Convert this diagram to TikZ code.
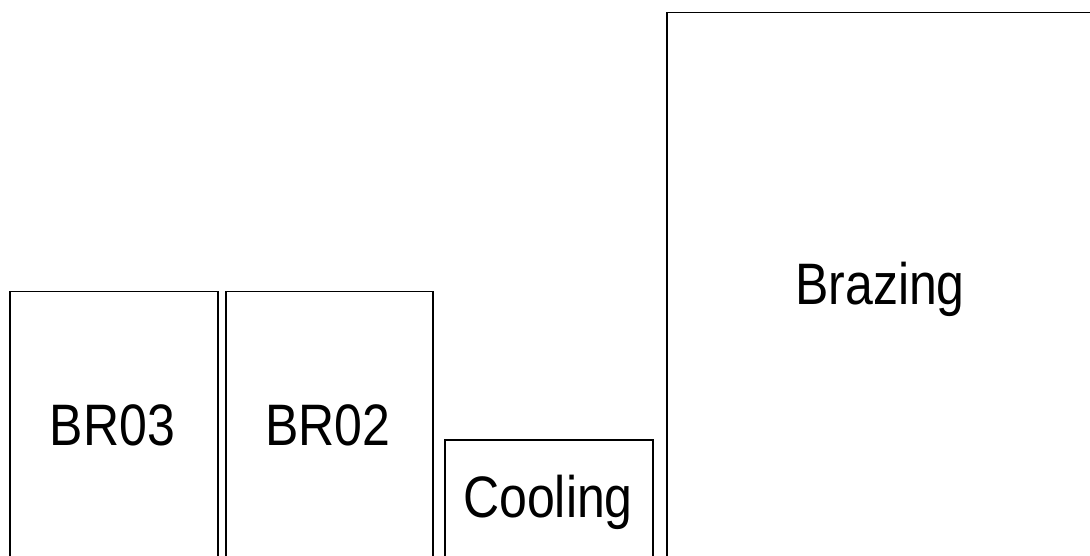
\documentclass[tikz,border=0pt]{standalone}
\usepackage{fontspec}
\setmainfont{Liberation Sans}
\begin{document}
\begin{tikzpicture}[x=1pt,y=-1pt,
  box/.style={draw=black, line width=1.3pt, fill=white, anchor=north west, inner sep=0pt, outer sep=0pt},
  lbl/.style={anchor=base, inner sep=0pt, font=\fontsize{50pt}{60pt}\selectfont}]
\useasboundingbox (0,0) rectangle (1090,556);
\clip (0,0) rectangle (1090,556);
\fill[white] (0,0) rectangle (1090,556);
\node[box, minimum width=208pt, minimum height=270pt] (br03) at (10,291.7) {};
\node[box, minimum width=207pt, minimum height=270pt] (br02) at (226,291.7) {};
\node[box, minimum width=208pt, minimum height=125pt] (cool) at (445,440) {};
\node[box, minimum width=430pt, minimum height=560pt] (braz) at (667,12.7) {};
\node[lbl] (t03) at (112.5,445) {\scalebox{1}[1.17]{BR03}};
\node[lbl] (t02) at (328,445) {\scalebox{1}[1.17]{BR02}};
\node[lbl] (tc) at (548,517) {\scalebox{1}[1.17]{Cooling}};
\node[lbl] (tb) at (880,305) {\scalebox{1}[1.17]{Brazing}};
\end{tikzpicture}
\end{document}
